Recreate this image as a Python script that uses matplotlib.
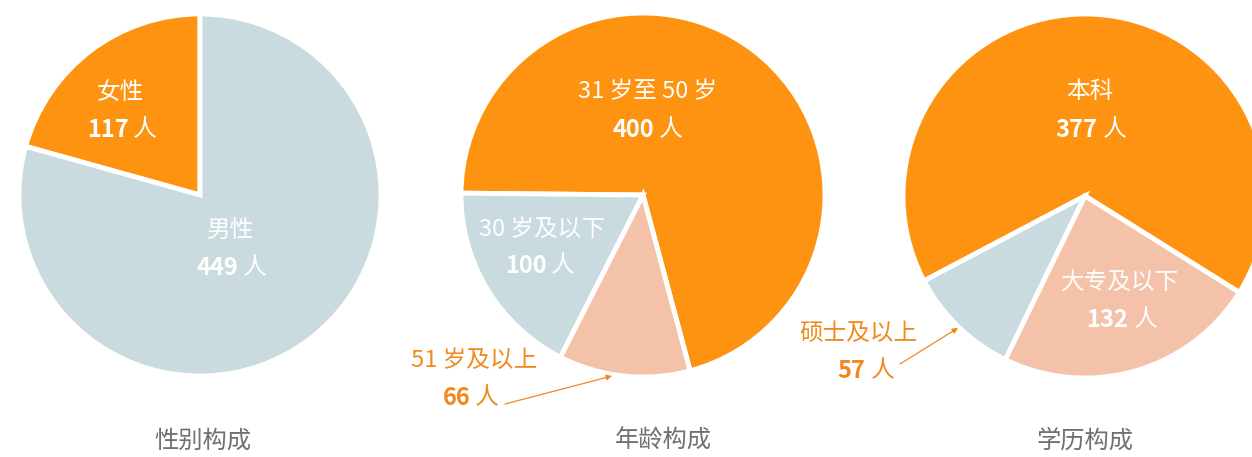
import matplotlib
matplotlib.use('Agg')
import matplotlib.pyplot as plt

plt.rcParams['font.family'] = ['Noto Sans CJK SC', 'DejaVu Sans']

# data
gender_names = ['女性', '男性']
gender_vals = [117, 449]
age_names = ['31 岁至 50 岁', '30 岁及以下', '51 岁及以上']
age_vals = [400, 100, 66]
edu_names = ['本科', '硕士及以上', '大专及以下']
edu_vals = [377, 57, 132]
titles = ['性别构成', '年龄构成', '学历构成']

orange = '#FD9310'
blue = '#C9DBDF'
pink = '#F4C2A8'
label_orange = '#F0891E'
W, H = 1252, 457

fig = plt.figure(figsize=(W / 100, H / 100), dpi=100)
ax = fig.add_axes([0, 0, 1, 1])

def Y(y):
    return H - y

wp = dict(edgecolor='white', linewidth=3.5)
ax.pie(gender_vals, colors=[orange, blue], startangle=90, counterclock=True,
       center=(200, Y(195)), radius=181, explode=[0.025, 0], wedgeprops=wp)
ax.pie(age_vals, colors=[orange, blue, pink], startangle=-75, counterclock=True,
       center=(643, Y(195)), radius=182, wedgeprops=wp)
ax.pie(edu_vals, colors=[orange, blue, pink], startangle=-32, counterclock=True,
       center=(1085, Y(196)), radius=182, wedgeprops=wp)

ax.set_xlim(0, W)
ax.set_ylim(0, H)
ax.set_aspect('equal')
ax.axis('off')

renderer = fig.canvas.get_renderer()
FS = 17

def name_label(x, y, s, color):
    ax.text(x, Y(y), s, color=color, fontsize=FS, weight='light',
            ha='center', va='center')

def num_label(x, y, num, color):
    t1 = ax.text(x, Y(y), str(num), color=color, fontsize=FS, weight='bold',
                 ha='left', va='center')
    t2 = ax.text(x, Y(y), ' 人', color=color, fontsize=FS, weight='light',
                 ha='left', va='center')
    w1 = t1.get_window_extent(renderer).width
    w2 = t2.get_window_extent(renderer).width
    x0 = x - (w1 + w2) / 2
    t1.set_x(x0)
    t2.set_x(x0 + w1)

# pie 1
name_label(121, 92, gender_names[0], 'white')
num_label(122, 130, gender_vals[0], 'white')
name_label(231, 230, gender_names[1], 'white')
num_label(232, 268, gender_vals[1], 'white')

# pie 2
name_label(648, 92, age_names[0], 'white')
num_label(648, 130, age_vals[0], 'white')
name_label(542, 229, age_names[1], 'white')
num_label(540, 266, age_vals[1], 'white')
name_label(474, 360, age_names[2], label_orange)
num_label(471, 398, age_vals[2], label_orange)
ax.annotate('', xy=(612, Y(376)), xytext=(505, Y(404)),
            arrowprops=dict(arrowstyle='-|>', color=label_orange, lw=0.9,
                            mutation_scale=8, shrinkA=0, shrinkB=0))

# pie 3
name_label(1090, 92, edu_names[0], 'white')
num_label(1091, 130, edu_vals[0], 'white')
name_label(1120, 282, edu_names[2], 'white')
num_label(1122, 320, edu_vals[2], 'white')
name_label(858, 333, edu_names[1], label_orange)
num_label(866, 371, edu_vals[1], label_orange)
ax.annotate('', xy=(958, Y(328)), xytext=(900, Y(364)),
            arrowprops=dict(arrowstyle='-|>', color=label_orange, lw=0.9,
                            mutation_scale=8, shrinkA=0, shrinkB=0))

# titles
for x, t in zip([203, 663, 1085], titles):
    ax.text(x, Y(441), t, color='#707070', fontsize=17.5, ha='center', va='center')

fig.savefig('out.png', dpi=100)
